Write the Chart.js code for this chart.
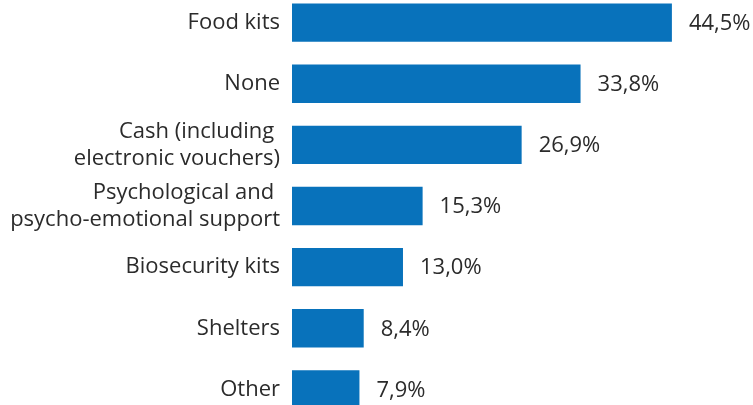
<!DOCTYPE html>
<html>
<head>
<meta charset="utf-8">
<script src="https://cdn.jsdelivr.net/npm/chart.js@4.4.1/dist/chart.umd.min.js"></script>
<style>
  html, body { margin: 0; padding: 0; background: #fff; overflow: hidden; }
  #wrap { position: absolute; left: 0; top: -8px; width: 753px; height: 428px; }
</style>
</head>
<body>
<div id="wrap"><canvas id="c"></canvas></div>
<script>
// Support received by households (% of respondents)
const categories = [
  ["Food kits"],
  ["None"],
  ["Cash (including ", "electronic vouchers)"],
  ["Psychological and ", "psycho-emotional support"],
  ["Biosecurity kits"],
  ["Shelters"],
  ["Other"]
];
const values = [44.5, 33.8, 26.9, 15.3, 13.0, 8.4, 7.9];
const valueLabels = ["44,5%", "33,8%", "26,9%", "15,3%", "13,0%", "8,4%", "7,9%"];

const FONT = "'Open Sans', 'Liberation Sans', sans-serif";
const TEXT = "#2b2b2b";

// Writes each value just past the end of its bar
const valueLabelPlugin = {
  id: "valueLabels",
  afterDatasetsDraw(chart) {
    const ctx = chart.ctx;
    const meta = chart.getDatasetMeta(0);
    ctx.save();
    ctx.font = "22px " + FONT;
    ctx.fillStyle = TEXT;
    ctx.textAlign = "left";
    ctx.textBaseline = "middle";
    meta.data.forEach((bar, i) => {
      ctx.fillText(valueLabels[i], bar.x + 17, bar.y + 1);
    });
    ctx.restore();
  }
};

new Chart(document.getElementById("c"), {
  type: "bar",
  data: {
    labels: categories,
    datasets: [{
      data: values,
      backgroundColor: "#0872bb",
      borderWidth: 0,
      categoryPercentage: 1,
      barPercentage: 0.627
    }]
  },
  options: {
    indexAxis: "y",
    responsive: true,
    maintainAspectRatio: false,
    animation: false,
    layout: { padding: 0 },
    plugins: { legend: { display: false }, tooltip: { enabled: false } },
    scales: {
      x: {
        display: false,
        min: 0,
        max: 54
      },
      y: {
        grid: { display: false, drawTicks: false },
        border: { display: false },
        ticks: {
          color: TEXT,
          padding: 12,
          font: { family: FONT, size: 22, lineHeight: 1.22 }
        },
        afterFit(scale) {
          scale.width = 292;
          scale.paddingTop = 0;
          scale.paddingBottom = 0;
        }
      }
    }
  },
  plugins: [valueLabelPlugin]
});
</script>
</body>
</html>
